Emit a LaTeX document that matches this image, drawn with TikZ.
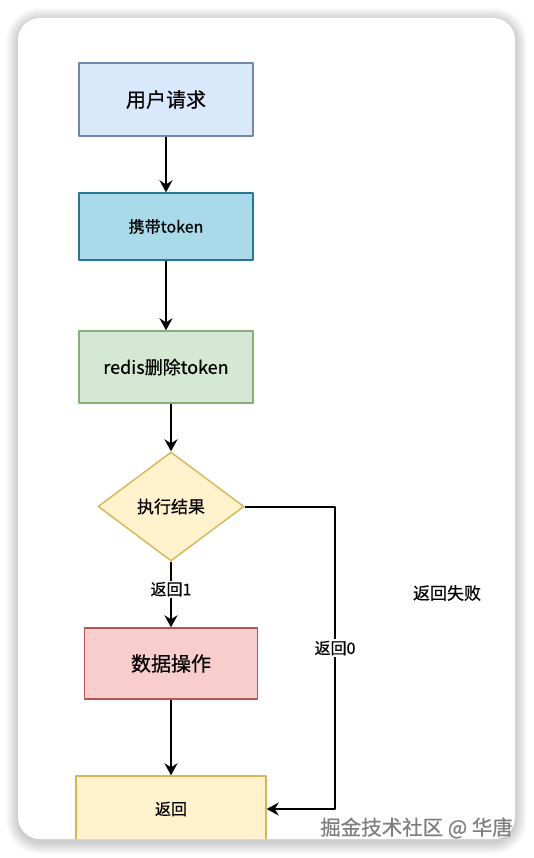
\documentclass[tikz,border=0pt]{standalone}
\usepackage{fontspec}
\setmainfont{Noto Sans CJK SC}[FakeBold=0.5]
\usetikzlibrary{arrows.meta,shapes.geometric}

\definecolor{reqfill}{HTML}{DAE8FC}
\definecolor{reqline}{HTML}{7088B0}
\definecolor{tokfill}{HTML}{A8DAEA}
\definecolor{tokline}{HTML}{2A7590}
\definecolor{delfill}{HTML}{D5E8D4}
\definecolor{delline}{HTML}{8AAE78}
\definecolor{decfill}{HTML}{FFF2CC}
\definecolor{decline}{HTML}{D6B656}
\definecolor{opsfill}{HTML}{F8CECC}
\definecolor{opsline}{HTML}{B85450}
\definecolor{markgray}{HTML}{7E7E7E}

\begin{document}
\begin{tikzpicture}[
  x=1pt,
  y=-1pt,
  line join=round,
  box/.style={draw,line width=1.4pt,inner sep=0pt},
  flow/.style={draw=black,line width=2pt,-{Stealth[length=12pt,width=13pt,inset=4pt]}},
  lbl/.style={fill=white,inner sep=1.5pt,font=\fontsize{16}{16}\selectfont}
]
  \useasboundingbox (0,0) rectangle (533,858);
  \fill[white] (0,0) rectangle (533,858);

  % Card with a soft shadow.
  \foreach \i in {1,...,12} {
    \fill[black,opacity=0.014,rounded corners=22+\i]
      (18-\i,18-\i+2) rectangle (515+\i,839+\i+3);
  }
  \fill[white,rounded corners=22] (18,18) rectangle (515,839);

  \begin{scope}
    \clip[rounded corners=22] (18,18) rectangle (515,839);

    % Flow steps.
    \node[box,fill=reqfill,draw=reqline,minimum width=174pt,minimum height=73pt,
      font=\fontsize{20}{20}\selectfont] (req) at (166,99.5) {用户请求};
    \node[box,fill=tokfill,draw=tokline,minimum width=174pt,minimum height=67pt,
      font=\fontsize{16}{16}\selectfont] (tok) at (166,226.5) {携带token};
    \node[box,fill=delfill,draw=delline,minimum width=174pt,minimum height=72pt,
      font=\fontsize{18}{18}\selectfont] (del) at (166,367) {redis删除token};
    \node[box,diamond,fill=decfill,draw=decline,minimum width=146pt,minimum height=109pt,
      font=\fontsize{17}{17}\selectfont] (dec) at (171,506.5) {执行结果};
    \node[box,fill=opsfill,draw=opsline,minimum width=173pt,minimum height=71pt,
      font=\fontsize{20}{20}\selectfont] (ops) at (171,663.5) {数据操作};
    \node[box,fill=decfill,draw=decline,minimum width=190pt,minimum height=66pt,
      font=\fontsize{16}{16}\selectfont] (ret) at (171,809) {返回};

    % Failure branch corner.
    \coordinate (bend) at (335,506.5);

    \draw[flow] (req) -- (tok);
    \draw[flow] (tok) -- (tok.south |- del.north);
    \draw[flow] (dec.north |- del.south) -- (dec);
    \draw[flow] (dec) -- node[lbl,pos=0.42] {返回1} (ops);
    \draw[flow] (ops) -- (ret);
    \draw[flow] (dec.east) -- (bend) |- node[lbl,pos=0.234] {返回0} (ret.east);

    \node[font=\fontsize{17}{17}\selectfont] (fail) at (447,593) {返回失败};
  \end{scope}

  % Site mark.
  \node[text=markgray,font=\fontsize{20.5}{20.5}\selectfont,anchor=east,inner sep=0pt]
    (mark) at (513,828) {掘金技术社区 @ 华唐};
\end{tikzpicture}
\end{document}
